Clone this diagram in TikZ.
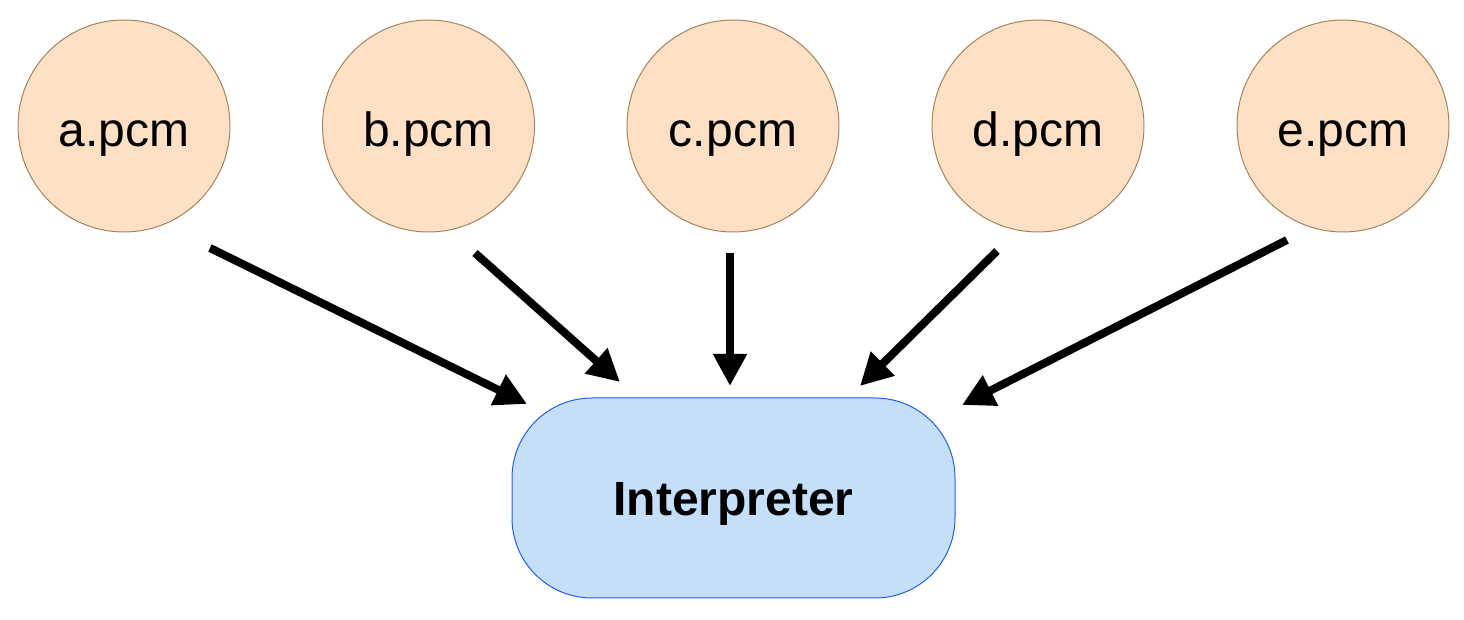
\documentclass[tikz,border=0pt]{standalone}
\usepackage{fontspec}
\setmainfont{Liberation Sans}
\usetikzlibrary{arrows.meta}

\definecolor{pcmfill}{HTML}{FFE0C5}
\definecolor{pcmline}{HTML}{A3845E}
\definecolor{interpfill}{HTML}{C5DFFB}
\definecolor{interpline}{HTML}{2062E0}

\begin{document}
\begin{tikzpicture}[x = 0.5pt, y = -0.5pt,
	pcm/.style = {circle, draw = pcmline, fill = pcmfill, line width = 0.5pt, minimum size = 106pt, inner sep = 0pt, text height = 21pt, text depth = 0pt, font = \fontsize{24}{28}\selectfont},
	interp/.style = {rectangle, rounded corners = 40pt, draw = interpline, fill = interpfill, line width = 0.5pt, minimum width = 221.5pt, minimum height = 100pt, text height = 18pt, text depth = 0pt, font = \fontsize{24}{28}\selectfont\bfseries},
	feed/.style = {line width = 4pt, -{Triangle[length = 16pt, width = 16pt]}}]
	 \useasboundingbox (0, 0) rectangle (1464, 620);
	 
	 \foreach \n/\x in {a/124, b/428.5, c/733, d/1038, e/1343}
	 \node[pcm] (\n) at (\x, 126) {\n.pcm};
	 
	 \node[interp] (interp) at (733.5, 498) {Interpreter};
	 
	 \coordinate (a-tail) at (210, 248);
	 \coordinate (a-head) at (527, 404);
	 \coordinate (b-tail) at (475, 253);
	 \coordinate (b-head) at (620, 382);
	 \coordinate (c-tail) at (730, 253);
	 \coordinate (c-head) at (730, 386);
	 \coordinate (d-tail) at (997, 251);
	 \coordinate (d-head) at (860, 386);
	 \coordinate (e-tail) at (1287, 240);
	 \coordinate (e-head) at (962, 405);
	 
	 \foreach \n in {a, b, c, d, e}
	 \draw[feed] (\n-tail) -- (\n-head);
\end{tikzpicture}
\end{document}
